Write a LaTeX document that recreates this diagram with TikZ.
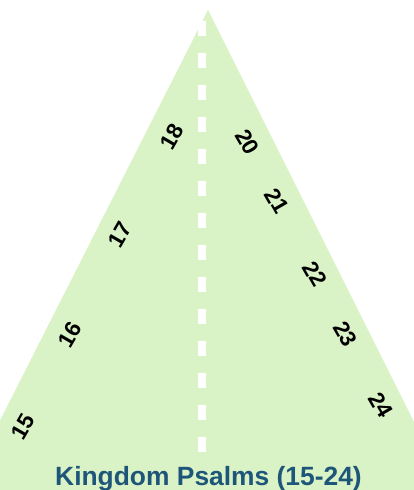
\documentclass[tikz,border=0pt]{standalone}
\usepackage{fontspec}
\setmainfont{Liberation Sans}
\definecolor{tri}{RGB}{218,243,198}
\definecolor{ttl}{RGB}{30,86,122}
\tikzset{
  num/.style={font=\bfseries\fontsize{22.5}{24}\selectfont, text=black, inner sep=0pt},
  numL/.style={num, rotate=60},
  numR/.style={num, rotate=-60},
  dashline/.style={draw=white, line width=8pt, dash pattern=on 15pt off 17pt},
  ttlstyle/.style={font=\bfseries\fontsize{26.4}{30}\selectfont, text=ttl, inner sep=0pt, anchor=base}
}
\begin{document}
\begin{tikzpicture}[x=1pt,y=-1pt]
\useasboundingbox (0,0) rectangle (414,490);
\begin{scope}
\clip (0,0) rectangle (414,490);
\fill[tri] (208,10) -- (503,600) -- (-91,600) -- cycle;
\end{scope}
\coordinate (dtop) at (202,21);
\coordinate (dbot) at (202,452);
\draw[dashline] (dtop) -- (dbot);
\node[numL] (n15) at (23,427) {15};
\node[numL] (n16) at (70,335) {16};
\node[numL] (n17) at (120,235) {17};
\node[numL] (n18) at (172,137) {18};
\node[numR] (n20) at (247,142) {20};
\node[numR] (n21) at (277,201) {21};
\node[numR] (n22) at (315,274) {22};
\node[numR] (n23) at (345,334) {23};
\node[numR] (n24) at (381,405) {24};
\node[ttlstyle] (title) at (208.5,485) {Kingdom Psalms (15-24)};
\end{tikzpicture}
\end{document}
